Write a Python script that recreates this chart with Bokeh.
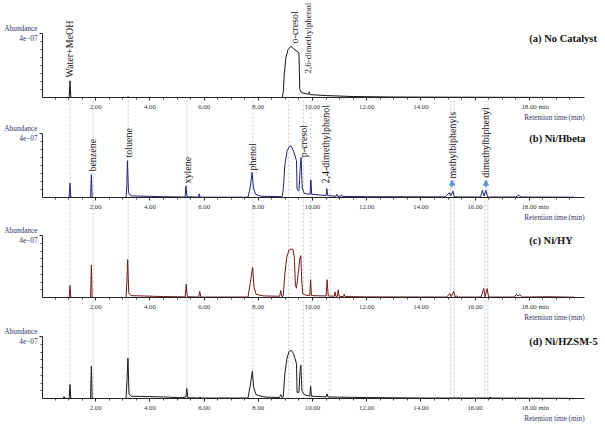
from bokeh.plotting import figure
from bokeh.models import Range1d, LinearAxis, FixedTicker, Label, Arrow, NormalHead
from bokeh.embed import file_html
from bokeh.resources import INLINE

# ---------------- data ----------------
panel_titles = ["(a) No Catalyst", "(b) Ni/Hbeta", "(c) Ni/HY", "(d) Ni/HZSM-5"]
panel_colors = ["#151515", "#232378", "#6e1c1c", "#1a1a1a"]
x_axis_title = "Retention time (min)"

# retention time (min) and abundance of trace vertices
a_time = [0.05, 1.02, 1.05, 1.08, 1.12, 3.17, 3.2, 3.23, 8.88, 8.92, 8.96, 9.02, 9.1, 9.2,
          9.3, 9.5, 9.53, 9.6, 9.85, 9.88, 9.91, 10.5, 11.5, 13.0, 19.65]
a_abund = [0, 0, 1.04e7, 0.05e7, 0, 0, 0.06e7, 0, 0, 0.3e7, 1.5e7, 2.5e7, 3.0e7, 3.2e7,
           3.05e7, 2.8e7, 0.5e7, 0.3e7, 0.2e7, 0.35e7, 0.18e7, 0.12e7, 0.06e7, 0.03e7, 0]

b_time = [0.05, 1.02, 1.05, 1.08, 1.12, 1.81, 1.84, 1.87, 3.12, 3.15, 3.17, 3.21, 3.3, 4.5,
          5.3, 5.33, 5.37, 5.79, 5.82, 5.85, 7.62, 7.7, 7.77, 7.82, 7.9, 8.1, 8.88, 8.92,
          8.98, 9.06, 9.15, 9.22, 9.3, 9.41, 9.43, 9.5, 9.55, 9.58, 9.62, 9.7, 9.91, 9.94,
          9.97, 10.5, 10.53, 10.56, 10.87, 10.9, 10.93, 11.04, 11.07, 11.1, 12.0, 14.9,
          15.05, 15.1, 15.18, 15.23, 16.2, 16.27, 16.33, 16.4, 16.46, 17.5, 17.6, 17.7, 19.65]
b_abund = [0, 0, 0.9e7, 0.03e7, 0, 0, 1.42e7, 0, 0, 0.8e7, 2.3e7, 0.3e7, 0.1e7, 0.05e7,
           0.03e7, 0.73e7, 0.05e7, 0.02e7, 0.23e7, 0.02e7, 0.02e7, 0.6e7, 1.56e7, 0.6e7,
           0.2e7, 0.08e7, 0.05e7, 0.5e7, 2.0e7, 2.9e7, 3.2e7, 3.2e7, 2.9e7, 2.3e7, 0.5e7,
           0.4e7, 2.0e7, 2.5e7, 0.6e7, 0.25e7, 0.2e7, 1.1e7, 0.2e7, 0.12e7, 0.56e7, 0.12e7,
           0.08e7, 0.2e7, 0.08e7, 0.07e7, 0.17e7, 0.07e7, 0.05e7, 0.04e7, 0.3e7, 0.1e7,
           0.4e7, 0.04e7, 0.03e7, 0.45e7, 0.1e7, 0.45e7, 0.03e7, 0.03e7, 0.15e7, 0.03e7, 0.02e7]

c_time = [0.05, 1.02, 1.05, 1.08, 1.12, 1.81, 1.84, 1.87, 3.12, 3.15, 3.18, 3.22, 3.3, 4.5,
          5.3, 5.34, 5.38, 5.8, 5.84, 5.88, 7.62, 7.7, 7.79, 7.84, 7.92, 8.2, 8.79, 8.83,
          8.87, 8.92, 8.98, 9.05, 9.13, 9.2, 9.28, 9.33, 9.37, 9.41, 9.47, 9.53, 9.57, 9.6,
          9.64, 9.75, 9.9, 9.93, 9.96, 10.5, 10.54, 10.58, 10.8, 10.83, 10.86, 10.92, 10.95,
          10.98, 11.14, 11.17, 11.2, 12.0, 14.95, 15.06, 15.12, 15.21, 15.26, 15.33, 15.38,
          16.22, 16.32, 16.37, 16.44, 16.5, 17.45, 17.52, 17.58, 17.65, 17.75, 18.7, 19.65]
c_abund = [0, 0, 0.78e7, 0.03e7, 0, 0, 2.1e7, 0, 0, 1.0e7, 2.45e7, 0.3e7, 0.12e7, 0.06e7,
           0.04e7, 0.85e7, 0.05e7, 0.03e7, 0.4e7, 0.03e7, 0.03e7, 0.9e7, 1.95e7, 0.7e7,
           0.2e7, 0.1e7, 0.08e7, 0.45e7, 0.05e7, 0.1e7, 1.5e7, 2.6e7, 3.05e7, 3.12e7, 3.1e7,
           2.6e7, 0.8e7, 0.6e7, 1.5e7, 2.5e7, 2.7e7, 1.2e7, 0.25e7, 0.15e7, 0.12e7, 1.15e7,
           0.12e7, 0.1e7, 1.15e7, 0.1e7, 0.08e7, 0.36e7, 0.08e7, 0.08e7, 0.5e7, 0.08e7,
           0.06e7, 0.2e7, 0.06e7, 0.04e7, 0.03e7, 0.25e7, 0.05e7, 0.4e7, 0.05e7, 0.1e7,
           0.03e7, 0.03e7, 0.58e7, 0.05e7, 0.58e7, 0.03e7, 0.03e7, 0.2e7, 0.1e7, 0.18e7,
           0.03e7, 0.05e7, 0.02e7]

d_time = [0.05, 0.8, 0.83, 0.86, 1.02, 1.05, 1.08, 1.12, 1.81, 1.84, 1.87, 3.12, 3.15, 3.19,
          3.23, 3.3, 4.5, 5.2, 5.33, 5.36, 5.4, 5.82, 5.85, 5.88, 7.62, 7.7, 7.78, 7.83, 7.92,
          8.2, 8.78, 8.83, 8.88, 8.92, 8.98, 9.06, 9.14, 9.22, 9.3, 9.41, 9.43, 9.5, 9.54,
          9.57, 9.61, 9.7, 9.9, 9.93, 9.96, 10.5, 10.54, 10.57, 12.0, 14.0, 16.5, 16.55,
          16.6, 19.65]
d_abund = [0, 0, 0.12e7, 0.02e7, 0, 0.9e7, 0.03e7, 0, 0, 2.1e7, 0, 0, 1.0e7, 2.6e7,
           0.3e7, 0.15e7, 0.1e7, 0.05e7, 0.1e7, 0.65e7, 0.05e7, 0.03e7, 0.1e7, 0.03e7,
           0.03e7, 0.8e7, 1.75e7, 0.7e7, 0.25e7, 0.1e7, 0.06e7, 0.25e7, 0.05e7, 0.1e7,
           1.6e7, 2.6e7, 3.05e7, 3.1e7, 2.9e7, 2.25e7, 0.4e7, 0.4e7, 1.8e7, 2.15e7, 0.5e7,
           0.25e7, 0.15e7, 0.8e7, 0.15e7, 0.1e7, 0.3e7, 0.1e7, 0.06e7, 0.03e7, 0.03e7,
           0.08e7, 0.03e7, 0.01e7]

panel_times = [a_time, b_time, c_time, d_time]
panel_abunds = [a_abund, b_abund, c_abund, d_abund]

# compound labels (name, retention time, abundance at label start)
a_names = ["Water+MeOH", "o-cresol", "2,6-dimethylphenol"]
a_label_t = [1.05, 9.35, 9.84]
a_label_y = [1.25e7, 3.38e7, 1.5e7]
b_names = ["benzene", "toluene", "xylene", "phenol", "p-cresol", "2,4-dimethylphenol",
           "methylbiphenyls", "dimethylbiphenyl"]
b_label_t = [1.88, 3.2, 5.39, 7.8, 9.65, 10.48, 15.15, 16.38]
b_label_y = [1.62e7, 2.5e7, 0.875e7, 1.69e7, 2.52e7, 0.875e7, 1.19e7, 1.23e7]
panel_names = [a_names, b_names, [], []]
panel_label_t = [a_label_t, b_label_t, [], []]
panel_label_y = [a_label_y, b_label_y, [], []]

# arrows in panel (b)
arrow_t = [15.15, 16.4]

# dotted guide lines (min)
marker_times = [1.05, 1.91, 3.2, 5.37, 7.8, 9.12, 9.66, 9.94, 10.64, 15.09, 15.23, 16.36, 16.47]

x_ticks = [2, 4, 6, 8, 10, 12, 14, 16, 18]
x_tick_labels = ["2.00", "4.00", "6.00", "8.00", "10.00", "12.00", "14.00", "16.00",
                 "\u2002\u2002\u2002 18.00 min"]
x_tick_labels_a = ["2.00", "4.00", "6.00", "8.00", "10.00", "12.00", "14.00", "",
                   "\u2002\u2002\u2002 18.00 min"]
y_tick = 40000000
y_tick_label = "Abundance\n4e\u221207"

# ---------------- layout ----------------
W, H = 605, 426
X0_PX = 41.0
PX_PER_MIN = 27.1
AXIS_T0, AXIS_T1 = 0.04, 20.04
BASE_PX = [97, 197, 297, 398]
TOP_PX = [33, 133, 235, 336]
FULL = 4e7
SERIF = "Liberation Serif"

p = figure(width=W, height=H, output_backend="svg", toolbar_location=None,
           x_range=Range1d(-X0_PX / PX_PER_MIN, (W - X0_PX) / PX_PER_MIN),
           y_range=Range1d(0, H), x_axis_location=None, y_axis_location=None,
           min_border=0, outline_line_color=None)
p.grid.visible = False
p.background_fill_color = "white"
p.border_fill_color = "white"

ranges = {}
for i in range(4):
    b, t = BASE_PX[i], TOP_PX[i]
    s = (b - t) / FULL
    ranges[f"p{i}"] = Range1d(-(H - b) / s, b / s)
p.extra_y_ranges = ranges

# dotted guide lines from panel (a) baseline to panel (d) baseline
n = len(marker_times)
p.segment(x0=marker_times, x1=marker_times, y0=[H - BASE_PX[3]] * n, y1=[H - BASE_PX[0] - 2] * n,
          line_color="#b0b0b0", line_dash="2 2", line_width=0.7)

minor_x = [k * 0.5 for k in range(1, 40) if k % 4 != 0]
minor_y = [k * 0.5e7 for k in range(1, 8)]

for i in range(4):
    name = f"p{i}"
    labels = x_tick_labels_a if i == 0 else x_tick_labels
    xa = LinearAxis(y_range_name=name, fixed_location=0, bounds=(AXIS_T0, AXIS_T1),
                    ticker=FixedTicker(ticks=x_ticks, minor_ticks=minor_x),
                    major_label_overrides={k: v for k, v in zip(x_ticks, labels)},
                    axis_line_color="#222222", axis_line_width=1,
                    major_tick_out=3, major_tick_in=0, minor_tick_out=2, minor_tick_in=0,
                    major_tick_line_color="#222222", minor_tick_line_color="#444444",
                    major_label_text_font=SERIF, major_label_text_font_size="6.8px",
                    major_label_text_color="#333333", major_label_standoff=2)
    p.add_layout(xa, "below")

    p.add_layout(Label(x=AXIS_T1, y=0, y_range_name=name, y_offset=-20, text=x_axis_title,
                       text_font=SERIF, text_font_size="7.2px", text_color="#333366",
                       text_align="right", text_baseline="middle"))

    ya = LinearAxis(y_range_name=name, fixed_location=AXIS_T0, bounds=(0, FULL),
                    ticker=FixedTicker(ticks=[y_tick], minor_ticks=minor_y),
                    major_label_overrides={y_tick: y_tick_label},
                    axis_line_color="#222222", axis_line_width=1,
                    major_tick_out=3, major_tick_in=0, minor_tick_out=2, minor_tick_in=0,
                    major_tick_line_color="#222222", minor_tick_line_color="#444444",
                    major_label_text_font=SERIF, major_label_text_font_size="7.3px",
                    major_label_text_color="#333366", major_label_standoff=2,
                    major_label_text_align="right")
    p.add_layout(ya, "left")

    p.line(panel_times[i], panel_abunds[i], y_range_name=name,
           line_color=panel_colors[i], line_width=1)

    p.add_layout(Label(x=18.0, y=3.7e7, y_range_name=name, text=panel_titles[i],
                       text_font=SERIF, text_font_style="bold", text_font_size="10.5px",
                       text_color="#111111", text_align="left", text_baseline="middle"))

    for nm, tt, yy in zip(panel_names[i], panel_label_t[i], panel_label_y[i]):
        size = "9px" if nm == "2,6-dimethylphenol" else "10px"
        p.add_layout(Label(x=tt, y=yy, y_range_name=name, text=nm, angle=90,
                           angle_units="deg", text_font=SERIF, text_font_size=size,
                           text_color="#111111", text_align="left", text_baseline="middle"))

for tt in arrow_t:
    p.add_layout(Arrow(x_start=tt, x_end=tt, y_start=0.62e7, y_end=1.08e7, y_range_name="p1",
                       line_color="#5b9bd5", line_width=1.5,
                       end=NormalHead(size=5, fill_color="#5b9bd5", line_color="#5b9bd5")))

open("out.html", "w").write(file_html(p, INLINE))
